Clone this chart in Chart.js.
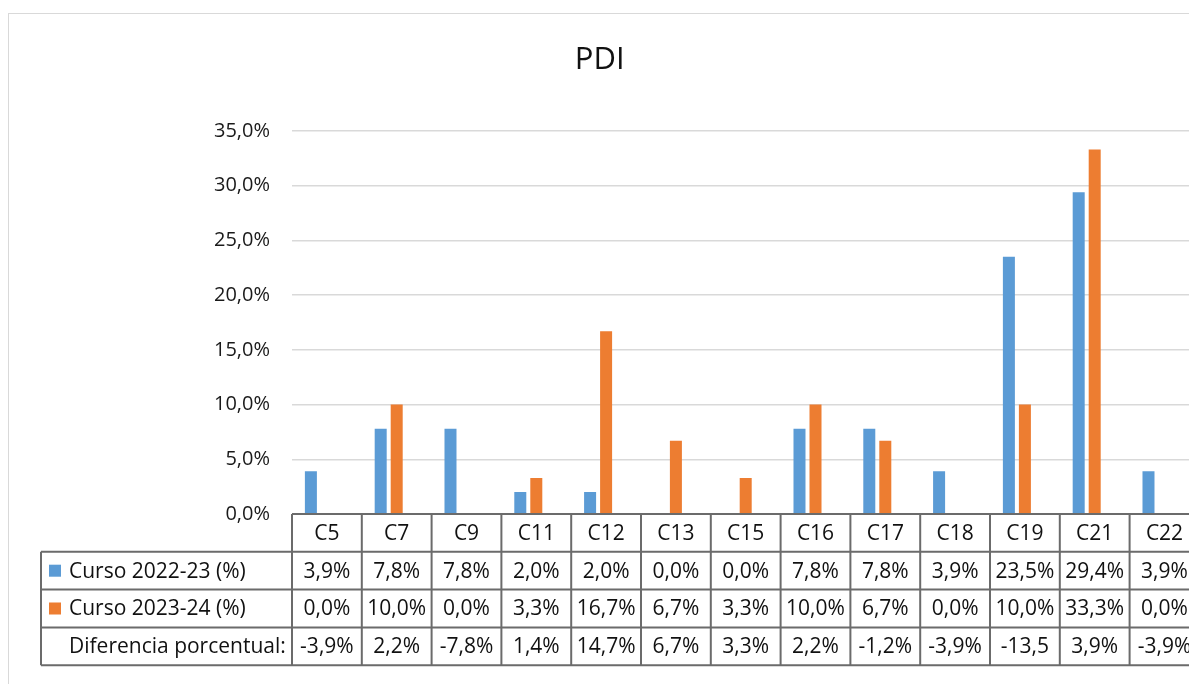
<!DOCTYPE html>
<html>
<head>
<meta charset="utf-8">
<script src="https://cdn.jsdelivr.net/npm/chart.js@4/dist/chart.umd.min.js"></script>
<style>
  html, body { margin: 0; padding: 0; background: #ffffff; overflow: hidden; }
  #wrap { width: 1189px; height: 684px; overflow: hidden; position: relative; }
  canvas { display: block; }
</style>
</head>
<body>
<div id="wrap"><canvas id="c" width="1210" height="684"></canvas></div>
<script>
// ---- data ----
const titulo = 'PDI';
const categorias = ['C5', 'C7', 'C9', 'C11', 'C12', 'C13', 'C15', 'C16', 'C17', 'C18', 'C19', 'C21', 'C22'];
const curso2022 = [3.9, 7.8, 7.8, 2.0, 2.0, 0.0, 0.0, 7.8, 7.8, 3.9, 23.5, 29.4, 3.9];
const curso2023 = [0.0, 10.0, 0.0, 3.3, 16.7, 6.7, 3.3, 10.0, 6.7, 0.0, 10.0, 33.3, 0.0];
const diferencia = [-3.9, 2.2, -7.8, 1.4, 14.7, 6.7, 3.3, 2.2, -1.2, -3.9, -13.5, 3.9, -3.9];
const diferenciaTexto = ['-3,9%', '2,2%', '-7,8%', '1,4%', '14,7%', '6,7%', '3,3%', '2,2%', '-1,2%', '-3,9%', '-13,5', '3,9%', '-3,9%'];
const etiquetasSeries = ['Curso 2022-23 (%)', 'Curso 2023-24 (%)', 'Diferencia porcentual:'];
const yTicks = [0, 5, 10, 15, 20, 25, 30, 35];

const fmt = v => v.toFixed(1).replace('.', ',') + '%';
const FONT = "'Open Sans', 'Liberation Sans', sans-serif";
Chart.defaults.font.family = FONT;

const frame = {
  id: 'frame',
  beforeDraw(chart) {
    const ctx = chart.ctx;
    ctx.save();
    ctx.fillStyle = '#ffffff';
    ctx.fillRect(0, 0, chart.width, chart.height);
    ctx.strokeStyle = '#d9d9d9';
    ctx.lineWidth = 1;
    ctx.strokeRect(8.5, 13.5, chart.width + 100, chart.height + 100);
    ctx.restore();
  }
};

const dataTable = {
  id: 'dataTable',
  afterDraw(chart) {
    const ctx = chart.ctx;
    const x = chart.scales.x;
    const area = chart.chartArea;
    const n = categorias.length;
    const colW = (area.right - area.left) / n;
    const rowH = 37.8;
    const top = area.bottom;
    const tableLeft = 41;
    const rows = [
      curso2022.map(fmt),
      curso2023.map(fmt),
      diferenciaTexto
    ];
    ctx.save();
    ctx.font = '21px ' + FONT;
    ctx.fillStyle = '#111111';
    ctx.textBaseline = 'middle';
    ctx.textAlign = 'center';
    for (let i = 0; i < n; i++) {
      const cx = x.getPixelForValue(i);
      ctx.fillText(categorias[i], cx, top + rowH / 2 + 1);
      for (let r = 0; r < 3; r++) {
        ctx.fillText(rows[r][i], cx, top + rowH * (r + 1) + rowH / 2 + 1);
      }
    }
    ctx.textAlign = 'left';
    for (let r = 0; r < 3; r++) {
      const cy = top + rowH * (r + 1) + rowH / 2;
      const ds = chart.data.datasets[r];
      if (r < 2) {
        ctx.fillStyle = ds.backgroundColor;
        ctx.fillRect(49, cy - 6, 12, 12);
      }
      ctx.fillStyle = '#111111';
      ctx.fillText(etiquetasSeries[r], 69, cy + 1);
    }
    ctx.strokeStyle = '#6b6b6b';
    ctx.lineWidth = 2;
    ctx.beginPath();
    ctx.moveTo(area.left, top);
    ctx.lineTo(area.right, top);
    for (let r = 1; r <= 4; r++) {
      ctx.moveTo(tableLeft, top + rowH * r);
      ctx.lineTo(area.right, top + rowH * r);
    }
    ctx.moveTo(tableLeft, top + rowH);
    ctx.lineTo(tableLeft, top + rowH * 4);
    for (let i = 0; i <= n; i++) {
      const lx = area.left + colW * i;
      ctx.moveTo(lx, top);
      ctx.lineTo(lx, top + rowH * 4);
    }
    ctx.stroke();
    ctx.restore();
  }
};

new Chart(document.getElementById('c'), {
  type: 'bar',
  data: {
    labels: categorias,
    datasets: [
      { label: etiquetasSeries[0], data: curso2022, backgroundColor: '#5b9bd5' },
      { label: etiquetasSeries[1], data: curso2023, backgroundColor: '#ed7d31' },
      { label: etiquetasSeries[2], data: diferencia, backgroundColor: 'rgba(0,0,0,0)' }
    ]
  },
  options: {
    responsive: false,
    animation: false,
    events: [],
    layout: { padding: { left: 0, right: 10.6, top: 0, bottom: 170 } },
    datasets: { bar: { categoryPercentage: 0.688, barPercentage: 0.75 } },
    plugins: {
      legend: { display: false },
      tooltip: { enabled: false },
      title: {
        display: true,
        text: titulo,
        color: '#111111',
        font: { size: 31, weight: 'normal', family: FONT },
        padding: { top: 41.4, bottom: 52.4 }
      }
    },
    scales: {
      x: { display: false },
      y: {
        min: 0, max: 35,
        afterBuildTicks(scale) { scale.ticks = yTicks.map(v => ({ value: v })); },
        afterFit(scale) { scale.width = 292; },
        border: { display: false },
        grid: { color: '#d9d9d9', lineWidth: 1.5, drawTicks: false },
        ticks: {
          padding: 22,
          color: '#1a1a1a',
          font: { size: 20, family: FONT },
          callback: v => fmt(v)
        }
      }
    }
  },
  plugins: [frame, dataTable]
});
</script>
</body>
</html>
